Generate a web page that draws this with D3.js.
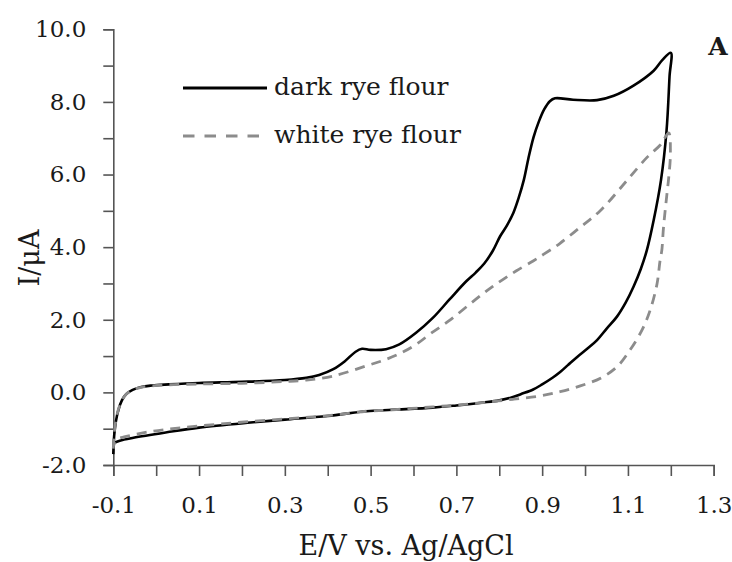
<!DOCTYPE html>
<html><head><meta charset="utf-8">
<script src="https://cdn.jsdelivr.net/npm/d3@7"></script>
<style>
body{margin:0;background:#fff;}
svg text{font-family:"DejaVu Serif",serif;fill:#1a1a1a;}
</style></head>
<body><svg id="c" width="732" height="562"></svg>
<script>
// Data: cyclic voltammograms, [E (V vs Ag/AgCl), I (µA)]
const darkRye = [
[-0.100,-1.70],[-0.098,-1.20],[-0.094,-0.80],[-0.088,-0.48],[-0.080,-0.22],[-0.070,-0.05],
[-0.055,0.07],[-0.035,0.15],[-0.010,0.19],[0.030,0.22],[0.100,0.26],[0.200,0.29],[0.300,0.34],
[0.350,0.40],[0.380,0.48],[0.413,0.64],[0.440,0.86],[0.465,1.12],[0.480,1.20],[0.500,1.17],
[0.536,1.19],[0.567,1.32],[0.606,1.64],[0.645,2.05],[0.684,2.56],[0.723,3.06],[0.745,3.30],
[0.765,3.55],[0.785,3.90],[0.802,4.30],[0.818,4.60],[0.833,4.95],[0.845,5.35],[0.857,5.84],
[0.868,6.45],[0.880,7.03],[0.892,7.45],[0.905,7.80],[0.918,8.02],[0.930,8.10],[0.972,8.06],
[1.028,8.05],[1.067,8.17],[1.113,8.45],[1.160,8.86],[1.180,9.15],[1.200,9.35],
[1.197,8.70],[1.190,7.20],[1.177,5.84],[1.160,4.74],[1.144,3.91],[1.130,3.40],[1.113,2.91],
[1.095,2.48],[1.074,2.08],[1.050,1.75],[1.028,1.44],[1.005,1.20],[0.981,0.97],[0.960,0.75],
[0.942,0.56],[0.925,0.41],[0.900,0.22],[0.879,0.08],[0.850,-0.05],[0.832,-0.13],[0.800,-0.22],
[0.762,-0.28],[0.700,-0.36],[0.645,-0.42],[0.550,-0.48],[0.490,-0.52],[0.400,-0.65],[0.300,-0.75],
[0.220,-0.83],[0.100,-0.97],[0.025,-1.10],[-0.053,-1.25],[-0.085,-1.33],[-0.100,-1.40]
];
const whiteRye = [
[-0.100,-1.55],[-0.098,-1.15],[-0.094,-0.78],[-0.088,-0.46],[-0.080,-0.22],[-0.070,-0.05],
[-0.055,0.07],[-0.035,0.14],[-0.010,0.18],[0.030,0.21],[0.100,0.23],[0.200,0.25],[0.300,0.30],
[0.350,0.34],[0.413,0.45],[0.490,0.73],[0.536,0.91],[0.570,1.08],[0.606,1.32],[0.640,1.62],
[0.684,1.98],[0.730,2.42],[0.760,2.70],[0.785,2.92],[0.810,3.12],[0.840,3.35],[0.879,3.62],
[0.903,3.80],[0.941,4.10],[0.989,4.55],[1.036,5.01],[1.098,5.84],[1.145,6.48],[1.176,6.82],
[1.195,7.15],
[1.199,6.58],[1.195,5.90],[1.191,5.47],[1.183,4.55],[1.179,3.91],[1.175,3.64],[1.168,3.00],
[1.152,2.27],[1.133,1.72],[1.105,1.17],[1.075,0.71],[1.036,0.39],[0.989,0.18],[0.942,0.02],
[0.894,-0.10],[0.832,-0.19],[0.762,-0.28],[0.700,-0.35],[0.645,-0.40],[0.550,-0.48],[0.490,-0.52],
[0.400,-0.64],[0.300,-0.73],[0.180,-0.84],[0.063,-0.97],[-0.014,-1.08],[-0.072,-1.22],
[-0.092,-1.30],[-0.100,-1.50]
];
const seriesNames = ["dark rye flour","white rye flour"];
const xTicks = [-0.1,0,0.1,0.2,0.3,0.4,0.5,0.6,0.7,0.8,0.9,1.0,1.1,1.2,1.3];
const xLabels = [-0.1,0.1,0.3,0.5,0.7,0.9,1.1,1.3];
const yTicks = [-2,-1,0,1,2,3,4,5,6,7,8,9,10];
const yLabels = [-2,0,2,4,6,8,10];
const xTitle = "E/V vs. Ag/AgCl";
const yTitle = "I/μA";
const panel = "A";

const svg = d3.select("#c");
const m = {l:113.3, r:18.3, t:29.3, b:97};
const W = 732, H = 562;
const x = d3.scaleLinear().domain([-0.1,1.3]).range([m.l, W-m.r]);
const y = d3.scaleLinear().domain([-2,10]).range([H-m.b, m.t]);
const axisColor = "#555";

const isLab = (arr,v)=>arr.some(a=>Math.abs(a-v)<1e-9);
const fmt = v => d3.format(".1f")(v).replace("\u2212","-");

// X axis
const gx = svg.append("g").attr("transform",`translate(0,${y(-2)})`)
  .call(d3.axisBottom(x).tickValues(xTicks).tickSize(11).tickPadding(21)
    .tickFormat(v=>isLab(xLabels,v)? fmt(v):""));
gx.select(".domain").attr("stroke",axisColor).attr("stroke-width",1.6);
gx.selectAll(".tick line").attr("stroke",axisColor).attr("stroke-width",1.6);
gx.selectAll(".tick text").style("font-size","23px").attr("fill","#1a1a1a").attr("dy","0.71em");

// Y axis
const gy = svg.append("g").attr("transform",`translate(${x(-0.1)},0)`)
  .call(d3.axisLeft(y).tickValues(yTicks).tickSize(10).tickPadding(17)
    .tickFormat(v=>isLab(yLabels,v)? fmt(v):""));
gy.select(".domain").attr("stroke",axisColor).attr("stroke-width",1.6);
gy.selectAll(".tick line").attr("stroke",axisColor).attr("stroke-width",1.6);
gy.selectAll(".tick text").style("font-size","23px").attr("fill","#1a1a1a");

// Lines
const line = d3.line().x(d=>x(d[0])).y(d=>y(d[1])).curve(d3.curveCatmullRom.alpha(0.5));
svg.append("path").datum(darkRye).attr("d",line)
  .attr("fill","none").attr("stroke","#000").attr("stroke-width",2.6).attr("stroke-linejoin","round");
svg.append("path").datum(whiteRye).attr("d",line)
  .attr("fill","none").attr("stroke","#8c8c8c").attr("stroke-width",2.8)
  .attr("stroke-dasharray","10,7");

// Legend
const lg = svg.append("g");
lg.append("line").attr("x1",183).attr("x2",267).attr("y1",88).attr("y2",88)
  .attr("stroke","#000").attr("stroke-width",2.8);
lg.append("line").attr("x1",183).attr("x2",267).attr("y1",136).attr("y2",136)
  .attr("stroke","#8c8c8c").attr("stroke-width",2.8).attr("stroke-dasharray","11.5,10");
lg.append("text").attr("x",274).attr("y",95).style("font-size","25px").text(seriesNames[0]);
lg.append("text").attr("x",274).attr("y",143).style("font-size","25px").text(seriesNames[1]);

// Titles
svg.append("text").attr("x",406).attr("y",555).attr("text-anchor","middle")
  .style("font-size","27px").text(xTitle);
svg.append("text").attr("transform","translate(39,258) rotate(-90)").attr("text-anchor","middle")
  .style("font-size","27px").text(yTitle);
svg.append("text").attr("x",718).attr("y",55).attr("text-anchor","middle")
  .style("font-size","25px").style("font-weight","bold").text(panel);
</script></body></html>
